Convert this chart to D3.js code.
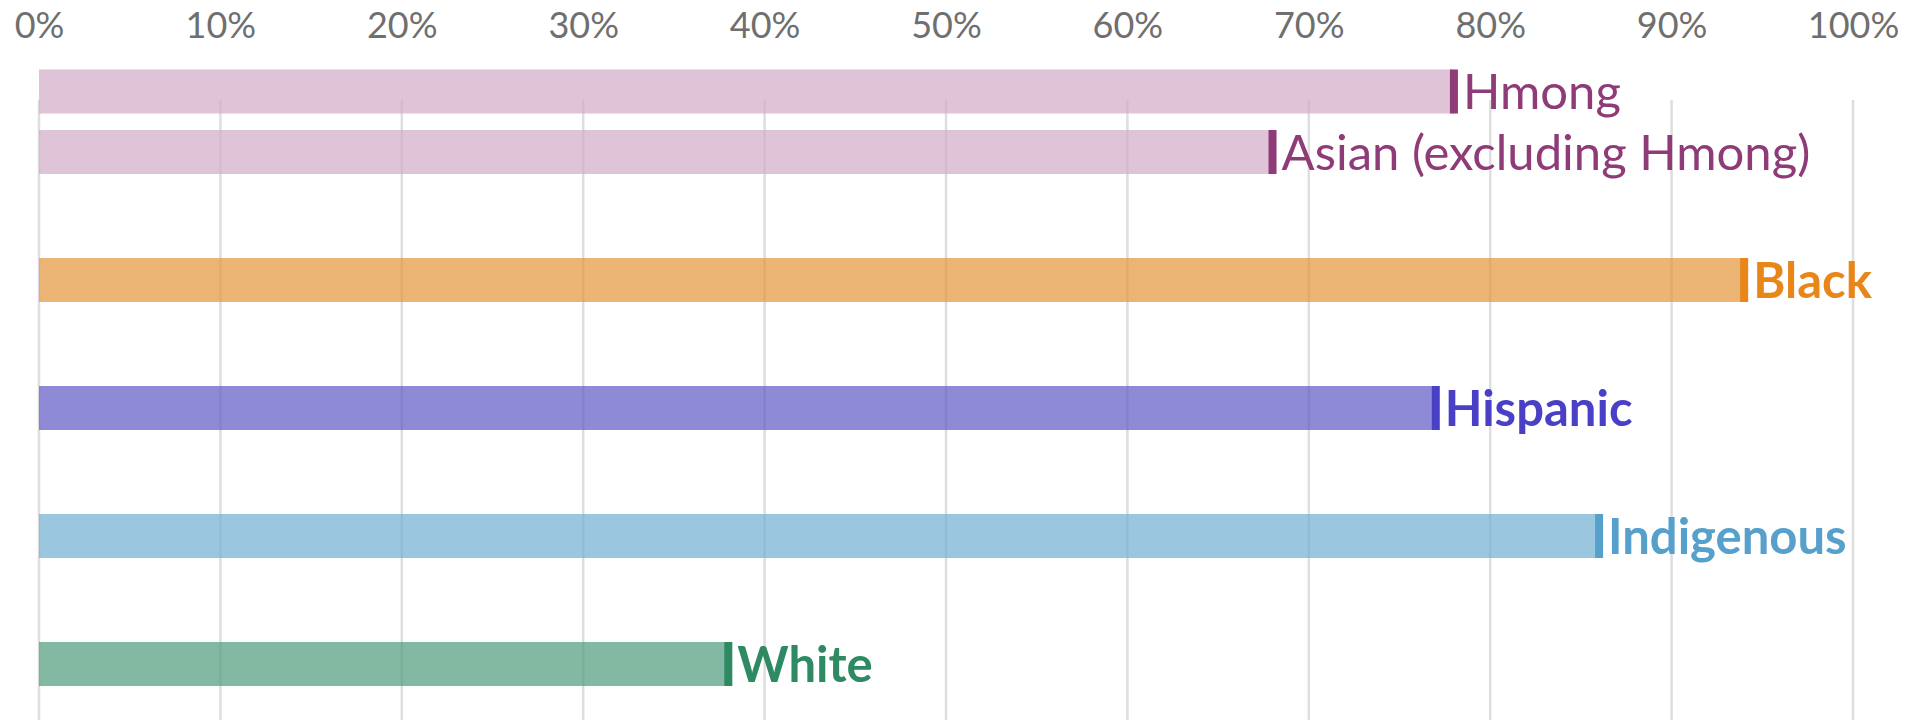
<!DOCTYPE html>
<html>
<head>
<meta charset="utf-8">
<script src="https://cdn.jsdelivr.net/npm/d3@7"></script>
<style>
  html, body { margin: 0; padding: 0; background: #fff; }
  svg { display: block; }
  text { font-family: Lato, "Noto Sans", sans-serif; }
</style>
</head>
<body>
<svg id="chart" width="1911" height="720"></svg>
<script>
// ---- data ----
const groups = ["Asian", "Black", "Hispanic", "Indigenous", "White"];
const rowLabels = ["Hmong", "Asian (excluding Hmong)", "Black", "Hispanic", "Indigenous", "White"];
const rowGroups = ["Asian", "Asian", "Black", "Hispanic", "Indigenous", "White"];
const values = [78, 68, 94, 77, 86, 38];
const tickValues = [0, 10, 20, 30, 40, 50, 60, 70, 80, 90, 100];
const tickLabels = ["0%", "10%", "20%", "30%", "40%", "50%", "60%", "70%", "80%", "90%", "100%"];

// ---- styles ----
const groupStyle = {
  Asian:      { bar: "#d1abc6", mark: "#8e3b78", weight: 400 },
  Black:      { bar: "#e5953a", mark: "#e8861a", weight: 700 },
  Hispanic:   { bar: "#5f59c4", mark: "#4a40c6", weight: 700 },
  Indigenous: { bar: "#70aed1", mark: "#58a0cc", weight: 700 },
  White:      { bar: "#4e9a7a", mark: "#2e8a63", weight: 700 }
};

const rows = rowLabels.map((label, i) => ({ label, group: rowGroups[i], value: values[i] }));

const svg = d3.select("#chart");
const W = 1911, H = 720;

const x = d3.scaleLinear().domain([0, 100]).range([39, 1853]);
const y = d3.scaleBand().domain(groups).range([88, 728]).padding(0);
const barH = 44;
const subStep = 60.5;

// sub-row positions within a group (last sub-row sits at the group centre)
function rowCenter(d) {
  const subs = rows.filter(r => r.group === d.group).map(r => r.label);
  const sub = d3.scalePoint().domain(subs).range([-(subs.length - 1) * subStep, 0]);
  return y(d.group) + y.bandwidth() / 2 + sub(d.label);
}

// gridlines
svg.append("g").selectAll("line")
  .data(tickValues).join("line")
  .attr("x1", d => x(d)).attr("x2", d => x(d))
  .attr("y1", 100).attr("y2", H)
  .attr("stroke", "#dedede").attr("stroke-width", 2.5);

// top axis labels
const axis = d3.axisTop(x).tickValues(tickValues)
  .tickFormat((d, i) => tickLabels[i]).tickSize(0).tickPadding(0);
const axG = svg.append("g").attr("transform", "translate(0,38)").call(axis);
axG.select(".domain").remove();
axG.selectAll("text")
  .attr("fill", "#6f6f6f")
  .style("font-family", "Lato, sans-serif")
  .style("font-size", "36px");

// bars
const g = svg.append("g");
g.selectAll("rect.bar").data(rows).join("rect")
  .attr("class", "bar")
  .attr("x", x(0))
  .attr("y", d => rowCenter(d) - barH / 2)
  .attr("width", d => x(d.value) - x(0))
  .attr("height", barH)
  .attr("fill", d => groupStyle[d.group].bar)
  .attr("fill-opacity", 0.7);

// end markers
g.selectAll("rect.mark").data(rows).join("rect")
  .attr("class", "mark")
  .attr("x", d => x(d.value) - 4)
  .attr("y", d => rowCenter(d) - barH / 2)
  .attr("width", 8)
  .attr("height", barH)
  .attr("fill", d => groupStyle[d.group].mark);

// labels
const fs = 49;
g.selectAll("text.lbl").data(rows).join("text")
  .attr("class", "lbl")
  .attr("x", d => x(d.value) + 9)
  .attr("y", d => rowCenter(d) + fs * 0.36)
  .attr("fill", d => groupStyle[d.group].mark)
  .style("font-size", fs + "px")
  .style("font-weight", d => groupStyle[d.group].weight)
  .text(d => d.label);
</script>
</body>
</html>
